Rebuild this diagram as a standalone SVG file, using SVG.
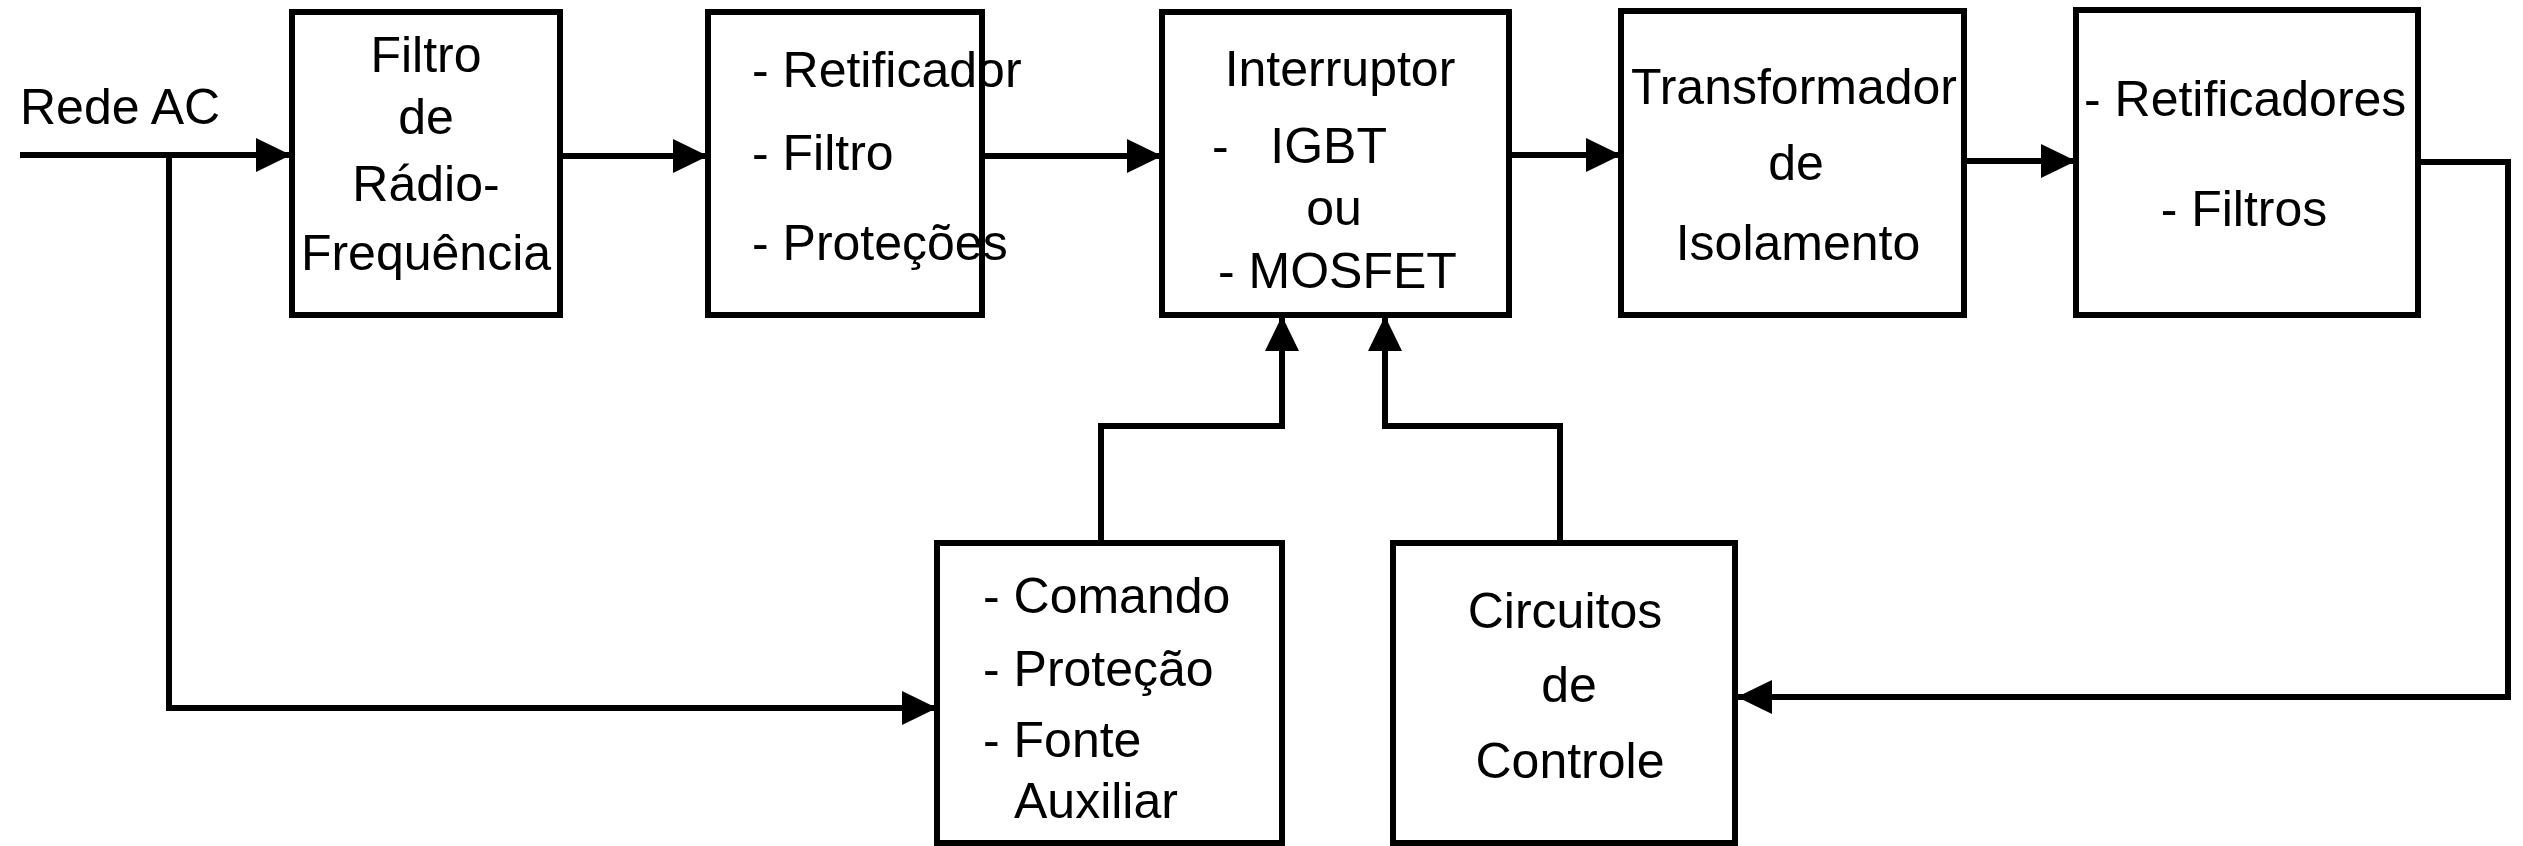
<svg xmlns="http://www.w3.org/2000/svg" width="2523" height="846" viewBox="0 0 2523 846">
<style>
.box{fill:#fff;stroke:#000;stroke-width:6}
.t{font-family:"Liberation Sans",Arial,sans-serif;font-size:50px;fill:#000}
.c{text-anchor:middle}
.w{fill:none;stroke:#000;stroke-width:6;stroke-linejoin:miter}
</style>
<defs>
<marker id="ah" viewBox="0 0 35 34" refX="35" refY="17" markerWidth="35" markerHeight="34" markerUnits="userSpaceOnUse" orient="auto">
<path d="M0,0 L35,17 L0,34 Z" fill="#000"/>
</marker>
</defs>
<rect width="2523" height="846" fill="#fff"/>
<g id="connectors">
<path class="w" d="M20,155 H291" marker-end="url(#ah)"/>
<path class="w" d="M169,155 V708 H937" marker-end="url(#ah)"/>
<path class="w" d="M560,156 H708" marker-end="url(#ah)"/>
<path class="w" d="M982,156 H1162" marker-end="url(#ah)"/>
<path class="w" d="M1509,155 H1621" marker-end="url(#ah)"/>
<path class="w" d="M1964,161 H2076" marker-end="url(#ah)"/>
<path class="w" d="M2418,162 H2508 V697 H1737" marker-end="url(#ah)"/>
<path class="w" d="M1101,542 V426 H1282 V316" marker-end="url(#ah)"/>
<path class="w" d="M1560,542 V426 H1385 V316" marker-end="url(#ah)"/>
</g>
<text id="rede-ac" class="t" x="20" y="124">Rede AC</text>
<g id="filtro-rf">
<rect class="box" x="292" y="12" width="268" height="303"/>
<text class="t c" x="426" y="72">Filtro</text>
<text class="t c" x="426" y="134">de</text>
<text class="t c" x="426" y="201">Rádio-</text>
<text class="t c" x="426" y="270">Frequência</text>
</g>
<g id="retificador">
<rect class="box" x="708" y="12" width="274" height="303"/>
<text class="t" x="752" y="87">- Retificador</text>
<text class="t" x="752" y="170">- Filtro</text>
<text class="t" x="752" y="260">- Proteções</text>
</g>
<g id="interruptor">
<rect class="box" x="1162" y="12" width="347" height="303"/>
<text class="t c" x="1340" y="86">Interruptor</text>
<text class="t" x="1212" y="163" xml:space="preserve">-   IGBT</text>
<text class="t c" x="1334" y="225">ou</text>
<text class="t" x="1218" y="288">- MOSFET</text>
</g>
<g id="transformador">
<rect class="box" x="1621" y="11" width="343" height="304"/>
<text class="t c" x="1794" y="104">Transformador</text>
<text class="t c" x="1796" y="180">de</text>
<text class="t c" x="1798" y="260">Isolamento</text>
</g>
<g id="retificadores">
<rect class="box" x="2076" y="10" width="342" height="305"/>
<text class="t" x="2084" y="116">- Retificadores</text>
<text class="t c" x="2244" y="226">- Filtros</text>
</g>
<g id="comando">
<rect class="box" x="937" y="543" width="345" height="300"/>
<text class="t" x="983" y="613">- Comando</text>
<text class="t" x="983" y="686">- Proteção</text>
<text class="t" x="983" y="757">- Fonte</text>
<text class="t" x="1014" y="818">Auxiliar</text>
</g>
<g id="circuitos">
<rect class="box" x="1393" y="543" width="342" height="300"/>
<text class="t c" x="1565" y="628">Circuitos</text>
<text class="t c" x="1569" y="702">de</text>
<text class="t c" x="1570" y="778">Controle</text>
</g>
</svg>
